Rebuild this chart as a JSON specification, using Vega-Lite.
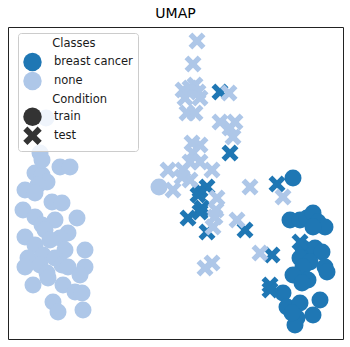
{
  "$schema": "https://vega.github.io/schema/vega-lite/v6.json",
  "width": 335,
  "height": 312,
  "autosize": {"type": "none"},
  "padding": {"left": 8, "top": 27, "right": 7, "bottom": 8},
  "title": {"text": "UMAP", "fontSize": 14, "fontWeight": "normal", "font": "DejaVu Sans", "color": "#000000", "offset": 6},
  "config": {
    "view": {"stroke": "#222222", "strokeWidth": 1},
    "font": "DejaVu Sans"
  },
  "data": {"values": [
    {"x": 46, "y": 232, "cls": "none", "cond": "train"},
    {"x": 40, "y": 197, "cls": "none", "cond": "train"},
    {"x": 60, "y": 183, "cls": "none", "cond": "train"},
    {"x": 70, "y": 183, "cls": "none", "cond": "train"},
    {"x": 35, "y": 177, "cls": "none", "cond": "train"},
    {"x": 42, "y": 175, "cls": "none", "cond": "train"},
    {"x": 47, "y": 168, "cls": "none", "cond": "train"},
    {"x": 42, "y": 190, "cls": "none", "cond": "train"},
    {"x": 38, "y": 165, "cls": "none", "cond": "train"},
    {"x": 25, "y": 160, "cls": "none", "cond": "train"},
    {"x": 35, "y": 157, "cls": "none", "cond": "train"},
    {"x": 23, "y": 140, "cls": "none", "cond": "train"},
    {"x": 52, "y": 148, "cls": "none", "cond": "train"},
    {"x": 62, "y": 147, "cls": "none", "cond": "train"},
    {"x": 35, "y": 133, "cls": "none", "cond": "train"},
    {"x": 42, "y": 125, "cls": "none", "cond": "train"},
    {"x": 55, "y": 130, "cls": "none", "cond": "train"},
    {"x": 77, "y": 132, "cls": "none", "cond": "train"},
    {"x": 45, "y": 120, "cls": "none", "cond": "train"},
    {"x": 68, "y": 117, "cls": "none", "cond": "train"},
    {"x": 60, "y": 112, "cls": "none", "cond": "train"},
    {"x": 25, "y": 113, "cls": "none", "cond": "train"},
    {"x": 35, "y": 105, "cls": "none", "cond": "train"},
    {"x": 50, "y": 110, "cls": "none", "cond": "train"},
    {"x": 65, "y": 100, "cls": "none", "cond": "train"},
    {"x": 85, "y": 100, "cls": "none", "cond": "train"},
    {"x": 28, "y": 92, "cls": "none", "cond": "train"},
    {"x": 43, "y": 95, "cls": "none", "cond": "train"},
    {"x": 55, "y": 92, "cls": "none", "cond": "train"},
    {"x": 40, "y": 85, "cls": "none", "cond": "train"},
    {"x": 25, "y": 83, "cls": "none", "cond": "train"},
    {"x": 62, "y": 85, "cls": "none", "cond": "train"},
    {"x": 68, "y": 83, "cls": "none", "cond": "train"},
    {"x": 85, "y": 83, "cls": "none", "cond": "train"},
    {"x": 47, "y": 77, "cls": "none", "cond": "train"},
    {"x": 80, "y": 75, "cls": "none", "cond": "train"},
    {"x": 33, "y": 65, "cls": "none", "cond": "train"},
    {"x": 63, "y": 65, "cls": "none", "cond": "train"},
    {"x": 48, "y": 72, "cls": "none", "cond": "train"},
    {"x": 75, "y": 58, "cls": "none", "cond": "train"},
    {"x": 82, "y": 57, "cls": "none", "cond": "train"},
    {"x": 53, "y": 48, "cls": "none", "cond": "train"},
    {"x": 58, "y": 38, "cls": "none", "cond": "train"},
    {"x": 83, "y": 40, "cls": "none", "cond": "train"},
    {"x": 159, "y": 163, "cls": "none", "cond": "train"},
    {"x": 293, "y": 172, "cls": "breast cancer", "cond": "train"},
    {"x": 290, "y": 130, "cls": "breast cancer", "cond": "train"},
    {"x": 300, "y": 130, "cls": "breast cancer", "cond": "train"},
    {"x": 307, "y": 132, "cls": "breast cancer", "cond": "train"},
    {"x": 313, "y": 137, "cls": "breast cancer", "cond": "train"},
    {"x": 318, "y": 128, "cls": "breast cancer", "cond": "train"},
    {"x": 325, "y": 123, "cls": "breast cancer", "cond": "train"},
    {"x": 313, "y": 123, "cls": "breast cancer", "cond": "train"},
    {"x": 303, "y": 102, "cls": "breast cancer", "cond": "train"},
    {"x": 315, "y": 102, "cls": "breast cancer", "cond": "train"},
    {"x": 322, "y": 98, "cls": "breast cancer", "cond": "train"},
    {"x": 300, "y": 92, "cls": "breast cancer", "cond": "train"},
    {"x": 310, "y": 88, "cls": "breast cancer", "cond": "train"},
    {"x": 325, "y": 83, "cls": "breast cancer", "cond": "train"},
    {"x": 327, "y": 78, "cls": "breast cancer", "cond": "train"},
    {"x": 303, "y": 83, "cls": "breast cancer", "cond": "train"},
    {"x": 293, "y": 75, "cls": "breast cancer", "cond": "train"},
    {"x": 308, "y": 70, "cls": "breast cancer", "cond": "train"},
    {"x": 283, "y": 57, "cls": "breast cancer", "cond": "train"},
    {"x": 302, "y": 67, "cls": "breast cancer", "cond": "train"},
    {"x": 287, "y": 43, "cls": "breast cancer", "cond": "train"},
    {"x": 300, "y": 47, "cls": "breast cancer", "cond": "train"},
    {"x": 320, "y": 50, "cls": "breast cancer", "cond": "train"},
    {"x": 313, "y": 35, "cls": "breast cancer", "cond": "train"},
    {"x": 297, "y": 32, "cls": "breast cancer", "cond": "train"},
    {"x": 295, "y": 25, "cls": "breast cancer", "cond": "train"},
    {"x": 292, "y": 37, "cls": "breast cancer", "cond": "train"},
    {"x": 220, "y": 258, "cls": "breast cancer", "cond": "test"},
    {"x": 230, "y": 197, "cls": "breast cancer", "cond": "test"},
    {"x": 207, "y": 163, "cls": "breast cancer", "cond": "test"},
    {"x": 200, "y": 160, "cls": "breast cancer", "cond": "test"},
    {"x": 198, "y": 155, "cls": "breast cancer", "cond": "test"},
    {"x": 202, "y": 142, "cls": "breast cancer", "cond": "test"},
    {"x": 200, "y": 138, "cls": "breast cancer", "cond": "test"},
    {"x": 188, "y": 132, "cls": "breast cancer", "cond": "test"},
    {"x": 207, "y": 118, "cls": "breast cancer", "cond": "test"},
    {"x": 245, "y": 120, "cls": "breast cancer", "cond": "test"},
    {"x": 277, "y": 166, "cls": "breast cancer", "cond": "test"},
    {"x": 272, "y": 95, "cls": "breast cancer", "cond": "test"},
    {"x": 270, "y": 65, "cls": "breast cancer", "cond": "test"},
    {"x": 270, "y": 60, "cls": "breast cancer", "cond": "test"},
    {"x": 300, "y": 108, "cls": "breast cancer", "cond": "test"},
    {"x": 197, "y": 309, "cls": "none", "cond": "test"},
    {"x": 193, "y": 286, "cls": "none", "cond": "test"},
    {"x": 195, "y": 265, "cls": "none", "cond": "test"},
    {"x": 183, "y": 260, "cls": "none", "cond": "test"},
    {"x": 190, "y": 262, "cls": "none", "cond": "test"},
    {"x": 198, "y": 258, "cls": "none", "cond": "test"},
    {"x": 200, "y": 252, "cls": "none", "cond": "test"},
    {"x": 185, "y": 252, "cls": "none", "cond": "test"},
    {"x": 187, "y": 237, "cls": "none", "cond": "test"},
    {"x": 195, "y": 237, "cls": "none", "cond": "test"},
    {"x": 229, "y": 257, "cls": "none", "cond": "test"},
    {"x": 220, "y": 228, "cls": "none", "cond": "test"},
    {"x": 235, "y": 228, "cls": "none", "cond": "test"},
    {"x": 230, "y": 222, "cls": "none", "cond": "test"},
    {"x": 233, "y": 213, "cls": "none", "cond": "test"},
    {"x": 192, "y": 207, "cls": "none", "cond": "test"},
    {"x": 200, "y": 205, "cls": "none", "cond": "test"},
    {"x": 193, "y": 197, "cls": "none", "cond": "test"},
    {"x": 190, "y": 188, "cls": "none", "cond": "test"},
    {"x": 200, "y": 188, "cls": "none", "cond": "test"},
    {"x": 168, "y": 180, "cls": "none", "cond": "test"},
    {"x": 183, "y": 180, "cls": "none", "cond": "test"},
    {"x": 212, "y": 180, "cls": "none", "cond": "test"},
    {"x": 190, "y": 170, "cls": "none", "cond": "test"},
    {"x": 182, "y": 173, "cls": "none", "cond": "test"},
    {"x": 173, "y": 160, "cls": "none", "cond": "test"},
    {"x": 217, "y": 152, "cls": "none", "cond": "test"},
    {"x": 215, "y": 133, "cls": "none", "cond": "test"},
    {"x": 213, "y": 123, "cls": "none", "cond": "test"},
    {"x": 216, "y": 140, "cls": "none", "cond": "test"},
    {"x": 237, "y": 130, "cls": "none", "cond": "test"},
    {"x": 250, "y": 163, "cls": "none", "cond": "test"},
    {"x": 283, "y": 153, "cls": "none", "cond": "test"},
    {"x": 260, "y": 97, "cls": "none", "cond": "test"},
    {"x": 205, "y": 82, "cls": "none", "cond": "test"},
    {"x": 212, "y": 87, "cls": "none", "cond": "test"}
  ]},
  "mark": {"type": "point", "filled": true, "opacity": 1, "size": 289, "strokeWidth": 0},
  "encoding": {
    "x": {"field": "x", "type": "quantitative", "axis": null, "scale": {"domain": [8, 343], "nice": false, "zero": false}},
    "y": {"field": "y", "type": "quantitative", "axis": null, "scale": {"domain": [11, 323], "nice": false, "zero": false}},
    "color": {
      "field": "cls", "type": "nominal", "title": null,
      "scale": {"domain": ["breast cancer", "none"], "range": ["#1f77b4", "#aec7e8"]},
      "legend": {"orient": "none", "legendX": 10, "legendY": 20.5, "padding": 5, "symbolType": "circle", "symbolSize": 340, "symbolOpacity": 1, "symbolStrokeWidth": 0, "labelOffset": 12, "labelFontSize": 11.5, "labelColor": "#1a1a1a", "rowPadding": 0, "zindex": 2}
    },
    "shape": {
      "field": "cond", "type": "nominal", "title": ["\u200b\u00a0\u00a0\u00a0\u00a0\u00a0\u00a0\u00a0\u00a0Classes", "\u200b\u00a0\u00a0\u00a0\u00a0\u00a0\u00a0\u00a0\u00a0Condition\u00a0\u00a0\u00a0\u00a0\u00a0\u00a0\u00a0\u200b"],
      "scale": {"domain": ["train", "test"], "range": ["circle", "M-0.55,-1L0,-0.45L0.55,-1L1,-0.55L0.45,0L1,0.55L0.55,1L0,0.45L-0.55,1L-1,0.55L-0.45,0L-1,-0.55Z"]},
      "legend": {"orient": "none", "legendX": 10, "legendY": 6, "padding": 5, "symbolSize": 340, "symbolOpacity": 1, "symbolFillColor": "#333333", "symbolStrokeColor": "#333333", "symbolStrokeWidth": 0, "labelOffset": 12, "labelFontSize": 11.5, "labelColor": "#1a1a1a", "titleFontSize": 11.5, "titleLineHeight": 55.8, "titleFontWeight": "normal", "titleColor": "#1a1a1a", "titlePadding": 2, "rowPadding": 0, "fillColor": "rgba(255,255,255,0.8)", "strokeColor": "#cccccc", "cornerRadius": 3, "zindex": 1}
    }
  }
}
